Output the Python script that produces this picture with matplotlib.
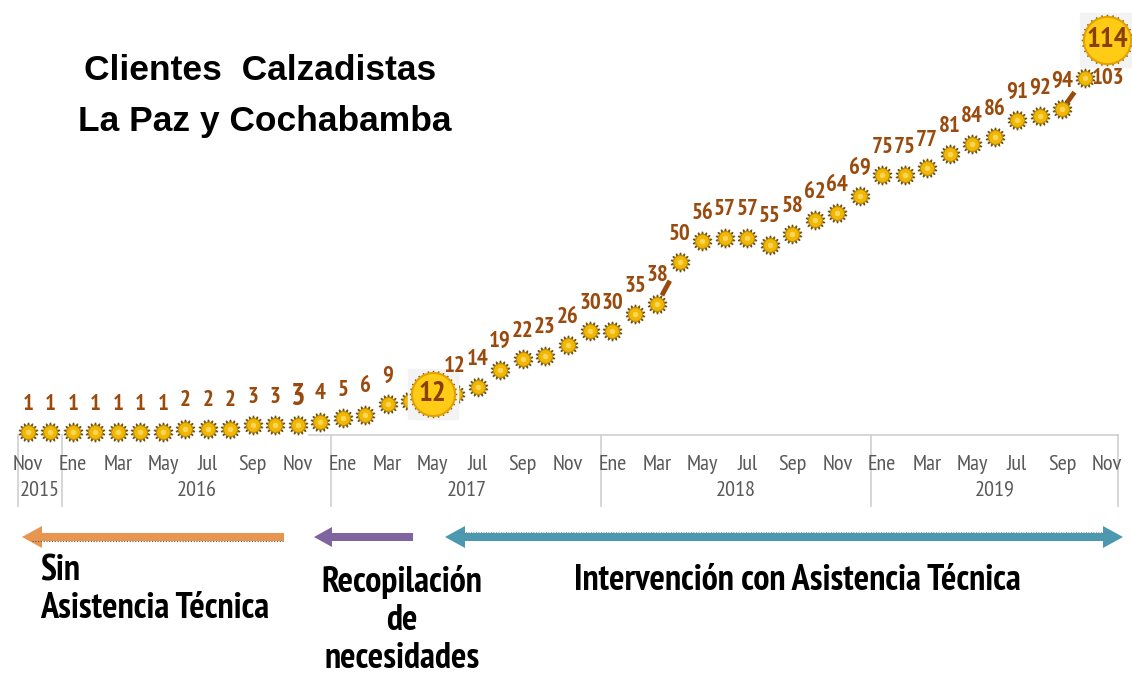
import matplotlib.pyplot as plt
from matplotlib.patches import FancyArrow
from matplotlib.transforms import blended_transform_factory
import numpy as np

plt.rcParams['font.family'] = ['PT Sans Narrow', 'Liberation Sans', 'DejaVu Sans']

# monthly clients, Nov 2015 .. Nov 2019
valores = [1, 1, 1, 1, 1, 1, 1, 2, 2, 2, 3, 3, 3, 4, 5, 6, 9, 10, 12, 12,
           14, 19, 22, 23, 26, 30, 30, 35, 38, 50, 56, 57, 57, 55, 58, 62, 64,
           69, 75, 75, 77, 81, 84, 86, 91, 92, 94, 103, 114]
destacados = [18, 48]      # points shown with a big marker
sin_etiqueta = [17]        # point hidden behind the big marker
saltos = [28, 46]          # little slash between two points

meses = ['Nov', 'Ene', 'Mar', 'May', 'Jul', 'Sep', 'Nov',
         'Ene', 'Mar', 'May', 'Jul', 'Sep', 'Nov',
         'Ene', 'Mar', 'May', 'Jul', 'Sep', 'Nov',
         'Ene', 'Mar', 'May', 'Jul', 'Sep', 'Nov']
anios = ['2015', '2016', '2017', '2018', '2019']
limites = [-0.45, 1.5, 13.5, 25.5, 37.5, 48.5]

W, H = 1132, 677
fig = plt.figure(figsize=(W / 100, H / 100), dpi=100)

# pixel overlay for decorations (under the data axes)
deco = fig.add_axes([0, 0, 1, 1])
deco.set_xlim(0, W)
deco.set_ylim(H, 0)
deco.axis('off')

ax = fig.add_axes([0, 0, 1, 1])
ax.patch.set_alpha(0)
x0, dx = 28, 22.48
s = 3.469
ax.set_xlim(-x0 / dx, (W - x0) / dx)
ax.set_ylim(1 - (H - 432) / s, 1 + 432 / s)
ax.axis('off')

mix = blended_transform_factory(ax.transData, deco.transData)

x = np.arange(len(valores))
y = np.array(valores)
brown = '#9A4A0C'

# axis line and year separators
ax.plot([12.5, limites[-1]], [435, 435], color='#CFCFCF', lw=1.2, transform=mix, zorder=1)
for b in limites:
    ax.plot([b, b], [435, 506], color='#CFCFCF', lw=1.2, transform=mix, zorder=1)

for k, m in enumerate(meses):
    ax.text(2 * k, 465, m, transform=mix, ha='center', va='center',
            fontsize=16, color='#595959')
for k, a in enumerate(anios):
    ax.text((limites[k] + limites[k + 1]) / 2, 490, a, transform=mix,
            ha='center', va='center', fontsize=16, color='#595959')

# slashes
for i in saltos:
    xa, ya = x[i], y[i]
    xb, yb = x[i + 1], y[i + 1]
    ax.plot([xa + 0.2 * (xb - xa), xa + 0.55 * (xb - xa)],
            [ya + 0.2 * (yb - ya), ya + 0.55 * (yb - ya)],
            color=brown, lw=3.5, solid_capstyle='butt', zorder=2)

# small markers
norm = [i for i in x if i not in destacados]
ax.plot(x[norm], y[norm], ls='none', marker=(14, 1, 0), ms=14,
        color='#6E5316', zorder=3)
ax.plot(x[norm], y[norm], ls='none', marker='o', ms=10,
        mfc='#F1B705', mec='#C89000', mew=0.8, zorder=4)
ax.plot(x[norm], y[norm], ls='none', marker='o', ms=4,
        mfc='#FFE27A', mec='none', alpha=0.7, zorder=4)

# value labels
for i, v in enumerate(valores):
    if i in destacados or i in sin_etiqueta:
        continue
    fs = 16.5
    off = (0, 20)
    if i == 12:
        fs = 22
    if i == 47:
        off = (17, 0)
    ax.annotate(str(v), (i, v), xytext=off, textcoords='offset points',
                ha='center', va='center', fontsize=fs, fontweight='bold',
                color=brown, zorder=6)

# big markers
for i in destacados:
    ms = 32 if valores[i] < 100 else 35
    ax.plot(x[i], y[i], marker='s', ms=ms + 4, color='#F3F3F3', zorder=4)
    ax.plot(x[i], y[i], marker=(28, 1, 0), ms=ms + 2, color='#8A5A12', zorder=5)
    ax.plot(x[i], y[i], marker='o', ms=ms - 1, mfc='#FFCB14', mec='#E3A200',
            mew=1.5, zorder=5)
    ax.text(x[i], y[i], str(valores[i]), ha='center', va='center',
            fontsize=21, fontweight='bold', color='#8A3E08', zorder=6)

# title
tfam = ['Liberation Sans', 'DejaVu Sans']
deco.text(260, 70, 'Clientes  Calzadistas', ha='center', va='center',
          fontsize=25.5, fontweight='bold', color='black', family=tfam)
deco.text(265, 121, 'La Paz y Cochabamba', ha='center', va='center',
          fontsize=25.5, fontweight='bold', color='black', family=tfam)

# phase arrows
deco.add_patch(FancyArrow(284, 537, -262, 0, width=8, head_width=22,
                          head_length=20, length_includes_head=True,
                          color='#E8964F', lw=0))
deco.plot([32, 283], [541, 541], ls=(0, (1, 1.5)), color='#555555', lw=0.8)
deco.add_patch(FancyArrow(413, 537, -99, 0, width=8, head_width=20,
                          head_length=18, length_includes_head=True,
                          color='#8064A0', lw=0))
for tip in (445, 1123):
    deco.add_patch(FancyArrow(784, 537, tip - 784, 0, width=8, head_width=22,
                              head_length=20, length_includes_head=True,
                              color='#4B98B0', lw=0))
deco.plot([458, 1110], [532, 532], ls=(0, (1, 2)), color='#777777', lw=0.6)

fs_b = 26
deco.text(40, 571, 'Sin', ha='left', va='center', fontsize=fs_b, fontweight='bold')
deco.text(40, 609, 'Asistencia Técnica', ha='left', va='center', fontsize=fs_b,
          fontweight='bold')
for k, t in enumerate(['Recopilación', 'de', 'necesidades']):
    deco.text(402, 582 + 38.5 * k, t, ha='center', va='center',
              fontsize=fs_b, fontweight='bold')
deco.text(797, 580, 'Intervención con Asistencia Técnica', ha='center',
          va='center', fontsize=fs_b, fontweight='bold')

fig.savefig('out.png', dpi=100)
